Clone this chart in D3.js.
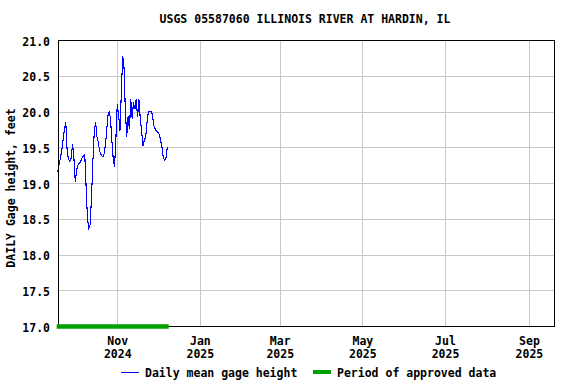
<!DOCTYPE html>
<html>
<head>
<meta charset="utf-8">
<script src="https://cdn.jsdelivr.net/npm/d3@7"></script>
<style>
  body { margin: 0; background: #fff; }
  text { font-family: "DejaVu Sans Mono", monospace; font-weight: bold; }
</style>
</head>
<body>
<div id="chart"></div>
<script>
// Daily mean gage height, one value per day starting at firstDay
var firstDay = "2024-09-18";
var gageHeight = [
  19.15, 19.25, 19.35, 19.45, 19.6, 19.75, 19.85, 19.45, 19.33, 19.3,
  19.35, 19.55, 19.35, 19.02, 19.18, 19.25, 19.28, 19.3, 19.35, 19.38,
  19.4, 18.95, 18.5, 18.37, 18.42, 18.8, 19.3, 19.7, 19.85, 19.65,
  19.57, 19.45, 19.4, 19.37, 19.38, 19.5, 19.68, 19.93, 20.0, 19.9,
  19.6, 19.35, 19.22, 19.62, 20.1, 19.95, 19.73, 20.25, 20.78, 20.62,
  20.0, 19.65, 19.93, 19.75, 20.17, 19.9, 20.13, 20.03, 20.17, 19.92,
  20.17, 19.9, 19.72, 19.52, 19.6, 19.64, 19.85, 20.0, 20.0, 20.0,
  19.96, 19.8, 19.76, 19.72, 19.71, 19.68, 19.6, 19.5, 19.36, 19.32,
  19.35, 19.5
];
var approvedPeriod = ["2024-09-18", "2024-12-09"];
var xDomain = ["2024-09-18T06:00", "2025-09-19T12:00"];
var xTicks = ["2024-11-01", "2025-01-01", "2025-03-01", "2025-05-01", "2025-07-01", "2025-09-01"];
var yTicks = [17.0, 17.5, 18.0, 18.5, 19.0, 19.5, 20.0, 20.5, 21.0];

var width = 576, height = 384;
var margin = {top: 40, right: 22, bottom: 58, left: 58};

var parse = d3.isoParse;
var start = parse(firstDay);
var data = gageHeight.map(function(v, i) {
  return {date: d3.timeDay.offset(start, i), value: v};
});

var svg = d3.select("#chart").append("svg")
  .attr("width", width)
  .attr("height", height);

svg.append("rect").attr("width", width).attr("height", height).attr("fill", "#fff");

var x = d3.scaleTime()
  .domain(xDomain.map(parse))
  .range([margin.left, width - margin.right]);
var y = d3.scaleLinear()
  .domain([17, 21])
  .range([height - margin.bottom, margin.top]);

// grid
svg.append("g")
  .selectAll("line.hgrid")
  .data(yTicks)
  .enter().append("line")
  .attr("x1", x.range()[0]).attr("x2", x.range()[1])
  .attr("y1", function(d) { return Math.round(y(d)) + 0.5; })
  .attr("y2", function(d) { return Math.round(y(d)) + 0.5; })
  .attr("stroke", "#c8c8c8");

svg.append("g")
  .selectAll("line.vgrid")
  .data(xTicks.map(parse))
  .enter().append("line")
  .attr("x1", function(d) { return Math.round(x(d)) + 0.5; })
  .attr("x2", function(d) { return Math.round(x(d)) + 0.5; })
  .attr("y1", y.range()[1]).attr("y2", y.range()[0])
  .attr("stroke", "#c8c8c8");

// y axis labels
var yAxis = d3.axisLeft(y)
  .tickValues(yTicks)
  .tickFormat(d3.format(".1f"))
  .tickSize(0)
  .tickPadding(8);
svg.append("g")
  .attr("transform", "translate(" + margin.left + ",1.5)")
  .call(yAxis)
  .call(function(g) { g.select(".domain").remove(); })
  .selectAll("text")
  .attr("font-family", "DejaVu Sans Mono")
  .attr("font-weight", "bold")
  .attr("font-size", 11.5)
  .attr("fill", "#000");

// x axis labels (two lines)
var xAxis = d3.axisBottom(x)
  .tickValues(xTicks.map(parse))
  .tickSize(0)
  .tickFormat("");
var xg = svg.append("g")
  .attr("transform", "translate(0," + (height - margin.bottom) + ")")
  .call(xAxis);
xg.select(".domain").remove();
xg.selectAll(".tick").append("text")
  .attr("y", 19)
  .attr("text-anchor", "middle")
  .attr("font-size", 11.5)
  .attr("fill", "#000")
  .text(d3.timeFormat("%b"));
xg.selectAll(".tick").append("text")
  .attr("y", 32)
  .attr("text-anchor", "middle")
  .attr("font-size", 11.5)
  .attr("fill", "#000")
  .text(d3.timeFormat("%Y"));

// data line
var line = d3.line()
  .x(function(d) { return x(d.date); })
  .y(function(d) { return y(d.value); });
svg.append("path")
  .datum(data)
  .attr("fill", "none")
  .attr("stroke", "#0000ff")
  .attr("stroke-width", 1.1)
  .attr("shape-rendering", "crispEdges")
  .attr("d", line);

// frame
svg.append("rect")
  .attr("x", margin.left + 0.5)
  .attr("y", margin.top + 0.5)
  .attr("width", x.range()[1] - x.range()[0])
  .attr("height", y.range()[0] - y.range()[1])
  .attr("fill", "none")
  .attr("stroke", "#000");

// approved period bar
svg.append("line")
  .attr("x1", x(parse(approvedPeriod[0])) - 1)
  .attr("x2", x(parse(approvedPeriod[1])))
  .attr("y1", y(17) + 0.5)
  .attr("y2", y(17) + 0.5)
  .attr("stroke", "#00a000")
  .attr("stroke-width", 4.5);

// title
svg.append("text")
  .attr("x", 305)
  .attr("y", 23)
  .attr("text-anchor", "middle")
  .attr("font-size", 11.5)
  .text("USGS 05587060 ILLINOIS RIVER AT HARDIN, IL");

// y title
svg.append("text")
  .attr("transform", "translate(15," + 188 + ") rotate(-90)")
  .attr("text-anchor", "middle")
  .attr("font-size", 11.5)
  .text("DAILY Gage height, feet");

// legend
var legend = svg.append("g").attr("transform", "translate(0,372)");
legend.append("line")
  .attr("x1", 121).attr("x2", 139)
  .attr("y1", 0.5).attr("y2", 0.5)
  .attr("stroke", "#0000ff");
legend.append("text")
  .attr("x", 145).attr("y", 5)
  .attr("font-size", 11.5)
  .text("Daily mean gage height");
legend.append("rect")
  .attr("x", 313).attr("y", -2)
  .attr("width", 18).attr("height", 4)
  .attr("fill", "#00a000");
legend.append("text")
  .attr("x", 337).attr("y", 5)
  .attr("font-size", 11.5)
  .text("Period of approved data");
</script>
</body>
</html>
